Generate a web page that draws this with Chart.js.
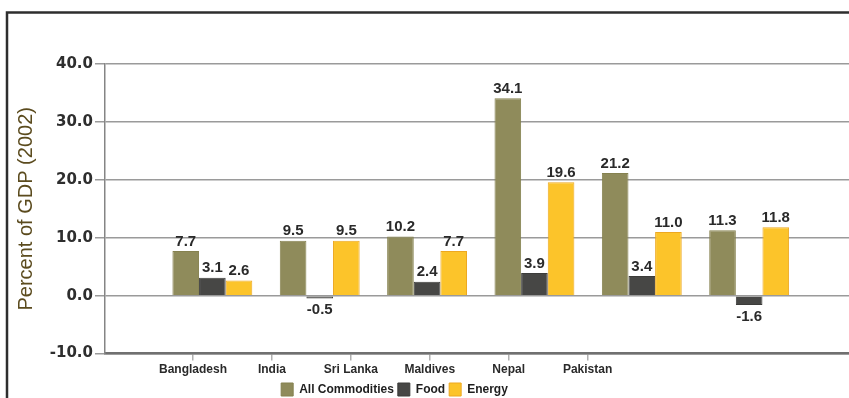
<!DOCTYPE html>
<html>
<head>
<meta charset="utf-8">
<script src="https://cdn.jsdelivr.net/npm/chart.js@4.4.1/dist/chart.umd.min.js"></script>
<style>
    html, body { margin: 0; padding: 0; background: #fff; }
    #wrap { width: 849px; height: 398px; position: relative; }
</style>
</head>
<body>
<div id="wrap"><canvas id="chart" width="849" height="398"></canvas></div>
<script>
"use strict";

const categories = ["Bangladesh", "India", "Sri Lanka", "Maldives", "Nepal", "Pakistan"];
const allCommodities = [7.7, 9.5, 10.2, 34.1, 21.2, 11.3];
const food = [3.1, -0.5, 2.4, 3.9, 3.4, -1.6];
const energy = [2.6, 9.5, 7.7, 19.6, 11.0, 11.8];
const yTicks = [-10, 0, 10, 20, 30, 40];

// the category names in the source sit left of their bar groups, on a tighter spacing
const X_MAX = 6.93;
const LABEL_START = 0.82;
const LABEL_STEP = 0.735;

const toPoints = (values) => values.map((v, i) => ({x: i + 1, y: v}));

const frame = {
    id: 'frame',
    beforeDraw(chart) {
        const ctx = chart.ctx;
        ctx.save();
        ctx.strokeStyle = '#2e2e2e';
        ctx.lineWidth = 2.5;
        ctx.beginPath();
        ctx.moveTo(7, 398);
        ctx.lineTo(7, 12.5);
        ctx.lineTo(849, 12.5);
        ctx.stroke();
        ctx.restore();
    },
    afterLayout(chart) {
        // legend sits left of the canvas middle
        chart.legend.left -= 34;
        chart.legend.right -= 34;
    }
};

const valueLabels = {
    id: 'valueLabels',
    afterDatasetsDraw(chart) {
        const ctx = chart.ctx;
        ctx.save();
        ctx.font = "bold 15px 'Liberation Sans', Arial, sans-serif";
        ctx.fillStyle = '#2a2a2a';
        ctx.textAlign = 'center';
        chart.data.datasets.forEach((ds, di) => {
            chart.getDatasetMeta(di).data.forEach((bar, i) => {
                let v = ds.data[i].y;
                if (v >= 0) {
                    ctx.textBaseline = 'bottom';
                    ctx.fillText(v.toFixed(1), bar.x, bar.y - 2);
                } else {
                    ctx.textBaseline = 'top';
                    ctx.fillText(v.toFixed(1), bar.x, bar.y + 4);
                }
            });
        });
        ctx.restore();
    }
};

new Chart(document.getElementById('chart'), {
    type: 'bar',
    data: {
        datasets: [
            {label: 'All Commodities', data: toPoints(allCommodities), backgroundColor: '#8f8b5b', borderColor: '#85814f', borderWidth: 1},
            {label: 'Food', data: toPoints(food), backgroundColor: '#474745', borderColor: '#3c3c3a', borderWidth: 1},
            {label: 'Energy', data: toPoints(energy), backgroundColor: '#fcc42a', borderColor: '#eda820', borderWidth: 1}
        ]
    },
    options: {
        responsive: false,
        animation: false,
        devicePixelRatio: 1,
        categoryPercentage: 0.8,
        barPercentage: 1.0,
        layout: {padding: {top: 64, left: 8, right: 0, bottom: -8}},
        plugins: {
            tooltip: {enabled: false},
            legend: {
                position: 'bottom',
                labels: {
                    boxWidth: 12,
                    boxHeight: 13,
                    padding: 4,
                    color: '#1e1e1e',
                    font: {family: "'Liberation Sans', Arial, sans-serif", size: 12, weight: 'bold'}
                }
            }
        },
        scales: {
            x: {
                type: 'linear',
                min: 0,
                max: X_MAX,
                offset: false,
                grid: {offset: false},
                display: false
            },
            x2: {
                type: 'linear',
                position: 'bottom',
                min: 0,
                max: X_MAX,
                offset: false,
                afterBuildTicks: (axis) => {
                    axis.ticks = categories.map((c, i) => ({value: LABEL_START + i * LABEL_STEP}));
                },
                ticks: {
                    autoSkip: false,
                    maxRotation: 0,
                    padding: 2,
                    color: '#2a2a2a',
                    font: {family: "'Liberation Sans', Arial, sans-serif", size: 12, weight: 'bold'},
                    callback: (value, index) => categories[index]
                },
                grid: {offset: false, drawOnChartArea: false, tickLength: 7, color: '#b0b0b0', lineWidth: 1.5},
                border: {display: true, color: '#707070', width: 2.5}
            },
            y: {
                min: -10,
                max: 40,
                afterBuildTicks: (axis) => {
                    axis.ticks = yTicks.map(v => ({value: v}));
                },
                afterFit: (axis) => { axis.width = 97; },
                ticks: {
                    padding: 2,
                    color: '#2e2e2e',
                    font: {family: "'DejaVu Sans', Verdana, sans-serif", size: 15, weight: 'bold'},
                    callback: (v) => Number(v).toFixed(1)
                },
                grid: {color: '#9a9a9a', lineWidth: 1.5, tickLength: 10},
                border: {color: '#858585', width: 1.5},
                title: {
                    display: true,
                    text: 'Percent of GDP (2002)',
                    color: '#5b4b1e',
                    padding: {top: 6, bottom: 0},
                    font: {family: "'Liberation Sans', Arial, sans-serif", size: 20}
                }
            }
        }
    },
    plugins: [frame, valueLabels]
});
</script>
</body>
</html>
